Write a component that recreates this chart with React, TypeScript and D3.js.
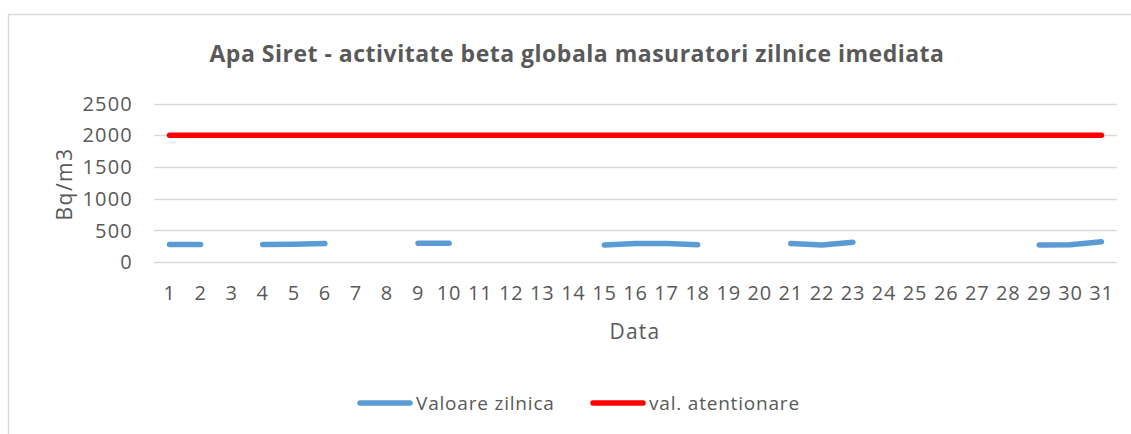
import * as d3 from "d3"

// chart data
const days = d3.range(1, 32).map(String)
const dailyValues: (number | null)[] = [
  275, 275, null, 275, 280, 292, null, null, 295, 295,
  null, null, null, null, 270, 292, 292, 272, null, null,
  290, 268, 310, null, null, null, null, null, 268, 273, 318,
]
const alertValues: number[] = days.map(() => 2000)
const yTicks = [0, 500, 1000, 1500, 2000, 2500]

const W = 1131
const H = 434
const FONT = "'Open Sans', sans-serif"
const TXT = "#595959"

function App() {
  const x = d3.scaleBand().domain(days).range([154, 1117])
  const y = d3.scaleLinear().domain([0, 2500]).range([262, 103.5])
  const cx = (d: string) => (x(d) as number) + x.bandwidth() / 2

  const line = d3.line<number | null>()
    .defined(d => d != null)
    .x((_, i) => cx(days[i]))
    .y(d => y(d as number))

  return (
    <svg width={W} height={H} style={{ position: "absolute", left: 0, top: 0, background: "#fff" }}
      fontFamily={FONT}>
      <rect x={8.5} y={14.5} width={1140} height={440} fill="#fff" stroke="#d9d9d9" strokeWidth={1.5} />
      <text x={577} y={62} textAnchor="middle" fontSize={23} fontWeight="bold" letterSpacing={0.5} fill={TXT}>
        Apa Siret - activitate beta globala masuratori zilnice imediata
      </text>

      {yTicks.map(t => (
        <g key={t}>
          <line x1={154} x2={1117} y1={Math.round(y(t)) + 0.5} y2={Math.round(y(t)) + 0.5} stroke="#d9d9d9" strokeWidth={1.5} />
          <text x={133} y={y(t)} dy="0.36em" textAnchor="end" fontSize={20} letterSpacing={1.2} fill={TXT}>{t}</text>
        </g>
      ))}
      {days.map(d => (
        <text key={d} x={cx(d)} y={293} dy="0.36em" textAnchor="middle" fontSize={20} letterSpacing={0.8} fill={TXT}>{d}</text>
      ))}

      <text transform={`translate(72,184) rotate(-90)`} textAnchor="middle" fontSize={21} letterSpacing={1.5} fill={TXT}>Bq/m3</text>
      <text x={635} y={331} dy="0.36em" textAnchor="middle" fontSize={21} letterSpacing={1.2} fill={TXT}>Data</text>

      <path d={line(alertValues) ?? ""} fill="none" stroke="#ff0000" strokeWidth={5.5} strokeLinecap="round" strokeLinejoin="round" />
      <path d={line(dailyValues) ?? ""} fill="none" stroke="#5b9bd5" strokeWidth={5.5} strokeLinecap="round" strokeLinejoin="round" />

      <line x1={360} x2={410} y1={403} y2={403} stroke="#5b9bd5" strokeWidth={5.5} strokeLinecap="round" />
      <text x={416} y={403} dy="0.36em" fontSize={19} letterSpacing={0.8} fill={TXT}>Valoare zilnica</text>
      <line x1={593} x2={643} y1={403} y2={403} stroke="#ff0000" strokeWidth={5.5} strokeLinecap="round" />
      <text x={649} y={403} dy="0.36em" fontSize={19} letterSpacing={0.8} fill={TXT}>val. atentionare</text>
    </svg>
  )
}

export default App
